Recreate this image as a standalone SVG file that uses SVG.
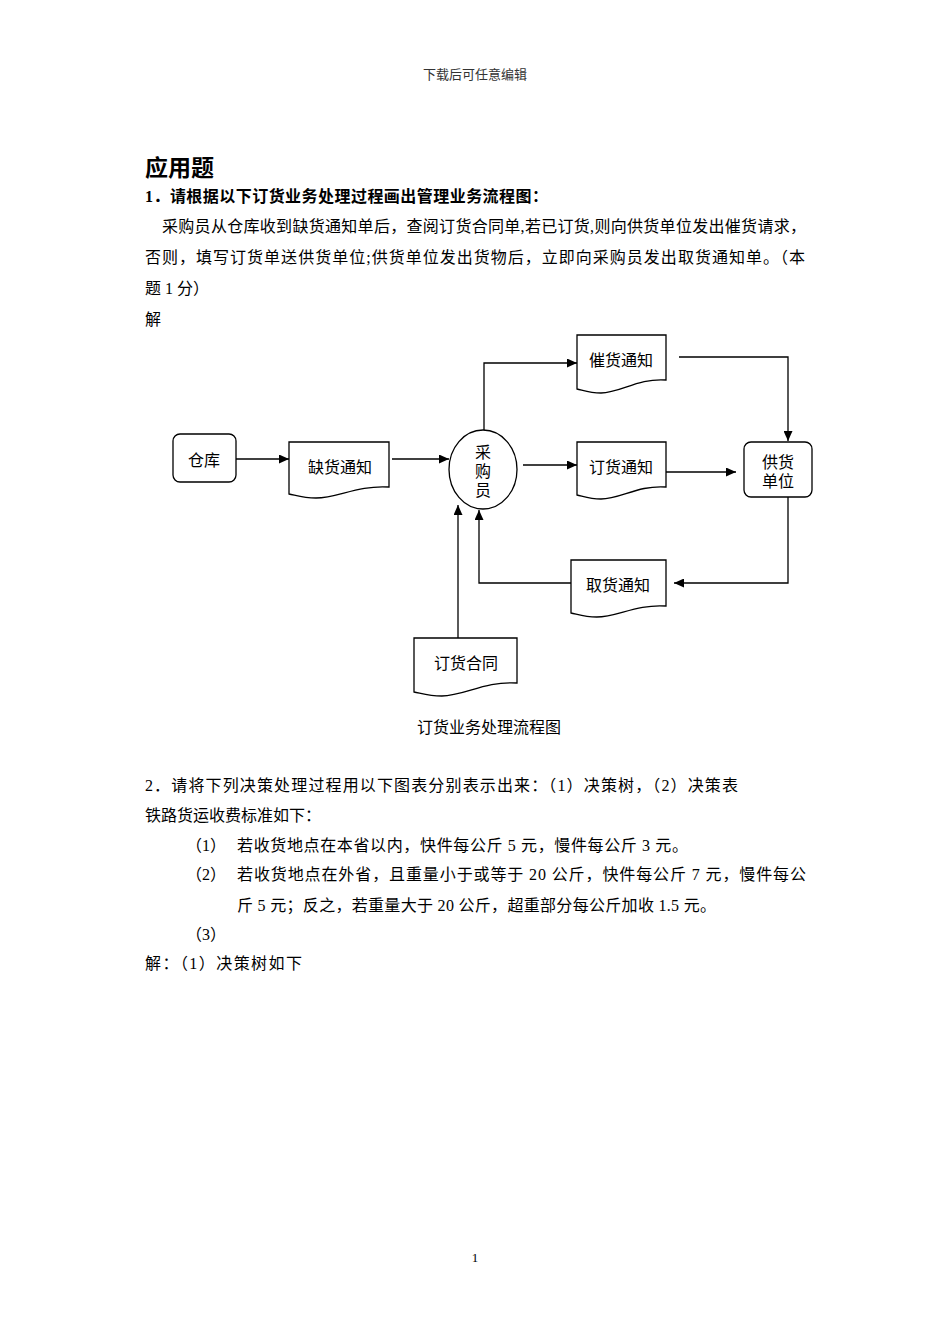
<svg xmlns="http://www.w3.org/2000/svg" width="950" height="1344" viewBox="0 0 950 1344">
<style>
text{font-family:"Liberation Serif","Noto Sans CJK SC",serif;fill:#000;dominant-baseline:central}
.b{font-size:16px}
.n{font-size:16px;text-anchor:middle}
.shape{fill:#fff;stroke:#000;stroke-width:1.3}
.conn{fill:none;stroke:#000;stroke-width:1.3}
</style>
<defs>
<marker id="ah" markerUnits="userSpaceOnUse" markerWidth="11" markerHeight="9" refX="10" refY="4.5" orient="auto" viewBox="0 0 11 9">
<path d="M0,0 L10,4.5 L0,9 Z" fill="#000"/>
</marker>
</defs>
<rect width="950" height="1344" fill="#fff"/>
<text x="475" y="74" style="font-size:13px;text-anchor:middle;fill:#333">下载后可任意编辑</text>
<text x="145" y="166" style="font-size:23px;font-weight:bold;font-family:'Noto Sans CJK SC',sans-serif">应用题</text>
<text x="145" y="196" class="b" style="font-weight:bold" textLength="403" lengthAdjust="spacing">1．请根据以下订货业务处理过程画出管理业务流程图：</text>
<text x="162" y="226" class="b" textLength="644" lengthAdjust="spacing">采购员从仓库收到缺货通知单后，查阅订货合同单,若已订货,则向供货单位发出催货请求，</text>
<text x="145" y="257" class="b" textLength="660" lengthAdjust="spacing">否则，填写订货单送供货单位;供货单位发出货物后，立即向采购员发出取货通知单。（本</text>
<text x="145" y="288" class="b">题 1 分）</text>
<text x="145" y="319" class="b">解</text>

<g id="connectors">
<path class="conn" d="M236,459 H289" marker-end="url(#ah)"/>
<path class="conn" d="M392,459 H449" marker-end="url(#ah)"/>
<path class="conn" d="M484,430 V363 H577" marker-end="url(#ah)"/>
<path class="conn" d="M679,357 H788 V441" marker-end="url(#ah)"/>
<path class="conn" d="M523,465 H577" marker-end="url(#ah)"/>
<path class="conn" d="M661,472 H736" marker-end="url(#ah)"/>
<path class="conn" d="M788,497 V583 H674" marker-end="url(#ah)"/>
<path class="conn" d="M571,583 H479 V510" marker-end="url(#ah)"/>
<path class="conn" d="M458,638 V505" marker-end="url(#ah)"/>
</g>

<g id="warehouse">
<rect class="shape" x="173" y="434" width="63" height="48" rx="7"/>
<text class="n" x="204" y="460">仓库</text>
</g>
<g id="shortage-notice">
<path class="shape" d="M289,442 H389 V487 C357,485 338,498 316,498 C303,498 295,495 289,494 Z"/>
<text class="n" x="340" y="467">缺货通知</text>
</g>
<g id="buyer">
<ellipse class="shape" cx="483" cy="469.5" rx="34" ry="39.5"/>
<text class="n" x="483" y="452">采</text>
<text class="n" x="483" y="471">购</text>
<text class="n" x="483" y="490">员</text>
</g>
<g id="urge-notice">
<path class="shape" d="M577,335 H666 V380 C637.5,378 620.6,393 601,393 C589.5,393 582.3,390 577,389 Z"/>
<text class="n" x="621" y="360">催货通知</text>
</g>
<g id="order-notice">
<path class="shape" d="M577,442 H666 V487 C637.5,485 620.6,499 601,499 C589.5,499 582.3,496 577,495 Z"/>
<text class="n" x="621" y="467">订货通知</text>
</g>
<g id="supplier">
<rect class="shape" x="744" y="442" width="68" height="55" rx="7"/>
<text class="n" x="778" y="462">供货</text>
<text class="n" x="778" y="481">单位</text>
</g>
<g id="pickup-notice">
<path class="shape" d="M571,560 H666 V606 C635.6,604 617.6,617 596.7,617 C584.3,617 576.7,614 571,613 Z"/>
<text class="n" x="618" y="585">取货通知</text>
</g>
<g id="order-contract">
<path class="shape" d="M414,638 H517 V683 C484,681 464.5,696 441.8,696 C428.4,696 420.2,693 414,692 Z"/>
<text class="n" x="466" y="663">订货合同</text>
</g>

<text x="417" y="727" class="b">订货业务处理流程图</text>

<text x="145" y="785" class="b" textLength="593" lengthAdjust="spacing">2．请将下列决策处理过程用以下图表分别表示出来：（1）决策树，（2）决策表</text>
<text x="145" y="815" class="b">铁路货运收费标准如下：</text>
<text x="186" y="845" class="b">（1）</text>
<text x="237" y="845" class="b" textLength="451" lengthAdjust="spacing">若收货地点在本省以内，快件每公斤 5 元，慢件每公斤 3 元。</text>
<text x="186" y="874" class="b">（2）</text>
<text x="237" y="874" class="b" textLength="569" lengthAdjust="spacing">若收货地点在外省，且重量小于或等于 20 公斤，快件每公斤 7 元，慢件每公</text>
<text x="237" y="905" class="b" textLength="479" lengthAdjust="spacing">斤 5 元；反之，若重量大于 20 公斤，超重部分每公斤加收 1.5 元。</text>
<text x="186" y="934" class="b">（3）</text>
<text x="145" y="963" class="b" textLength="157" lengthAdjust="spacing">解：（1）决策树如下</text>
<text x="475" y="1257" style="font-size:13px;text-anchor:middle">1</text>
</svg>
